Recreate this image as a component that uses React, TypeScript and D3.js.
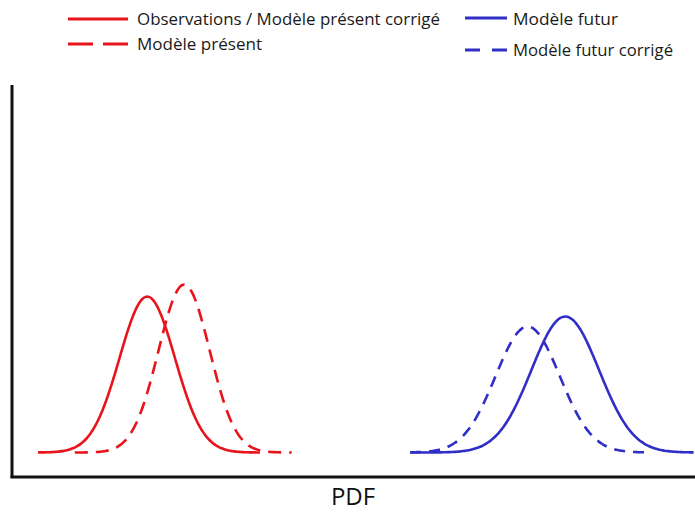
import React from "react";
import * as d3 from "d3";

// Distribution parameters (x in chart units 0..100, peak height in y units)
const seriesNames = ["Observations / Modèle présent corrigé", "Modèle présent", "Modèle futur", "Modèle futur corrigé"];
const seriesMeans = [19.8, 25.2, 81.0, 75.5];
const seriesSds = [4.05, 3.75, 4.95, 4.7];
const seriesPeaks = [0.78, 0.84, 0.68, 0.63];
const seriesStart = [3.8, 9.2, 58.3, 58.3];
const seriesEnd = [36.5, 41.1, 100, 93.5];
const seriesColors = ["#e8141c", "#e8141c", "#2f2fc8", "#2f2fc8"];
const seriesDashed = [false, true, false, true];
const axisLabel = "PDF";

const W = 695;
const H = 512;

export default function App() {
  const x = d3.scaleLinear().domain([0, 100]).range([12, 695]);
  const y = d3.scaleLinear().domain([0, 1]).range([452.5, 252.5]);
  const line = d3
    .line<[number, number]>()
    .x((d) => x(d[0]))
    .y((d) => y(d[1]))
    .curve(d3.curveBasis);

  const paths = seriesNames.map((_, i) => {
    const pts: [number, number][] = d3
      .range(seriesStart[i], seriesEnd[i] + 0.001, 0.25)
      .map((v) => {
        const z = (v - seriesMeans[i]) / seriesSds[i];
        return [v, seriesPeaks[i] * Math.exp(-0.5 * z * z)];
      });
    return line(pts) || "";
  });

  const font = "'Open Sans', 'DejaVu Sans', sans-serif";

  const legend = [
    { x1: 68, x2: 128, ly: 19, tx: 137, ty: 25, len: 303, dash: "", i: 0 },
    { x1: 68, x2: 128, ly: 44, tx: 137, ty: 50, len: 125, dash: "25 10", i: 1 },
    { x1: 465, x2: 507, ly: 18, tx: 513, ty: 25, len: 105, dash: "", i: 2 },
    { x1: 465, x2: 507, ly: 50, tx: 513, ty: 56, len: 160, dash: "15 12", i: 3 },
  ];

  return (
    <svg
      width={W}
      height={H}
      viewBox={`0 0 ${W} ${H}`}
      style={{ position: "absolute", left: 0, top: 0, background: "#fff" }}
    >
      <rect x={0} y={0} width={W} height={H} fill="#fff" />
      {legend.map((l) => (
        <g key={l.i}>
          <line
            x1={l.x1}
            x2={l.x2}
            y1={l.ly}
            y2={l.ly}
            stroke={seriesColors[l.i]}
            strokeWidth={3.2}
            strokeDasharray={l.dash || undefined}
          />
          <text
            x={l.tx}
            y={l.ty}
            fontFamily={font}
            fontSize={16}
            fill="#1a1a1a"
            textLength={l.len}
            lengthAdjust="spacingAndGlyphs"
          >
            {seriesNames[l.i]}
          </text>
        </g>
      ))}
      {paths.map((p, i) => (
        <path
          key={i}
          d={p}
          fill="none"
          stroke={seriesColors[i]}
          strokeWidth={2.6}
          strokeDasharray={seriesDashed[i] ? (i === 1 ? "13 8" : "11 8") : undefined}
          strokeLinecap="butt"
        />
      ))}
      <line x1={12} x2={12} y1={85} y2={478} stroke="#111" strokeWidth={3} />
      <line x1={10.5} x2={695} y1={477} y2={477} stroke="#111" strokeWidth={3} />
      <text
        x={353}
        y={505}
        textAnchor="middle"
        fontFamily={font}
        fontSize={24}
        fill="#111"
      >
        {axisLabel}
      </text>
    </svg>
  );
}
